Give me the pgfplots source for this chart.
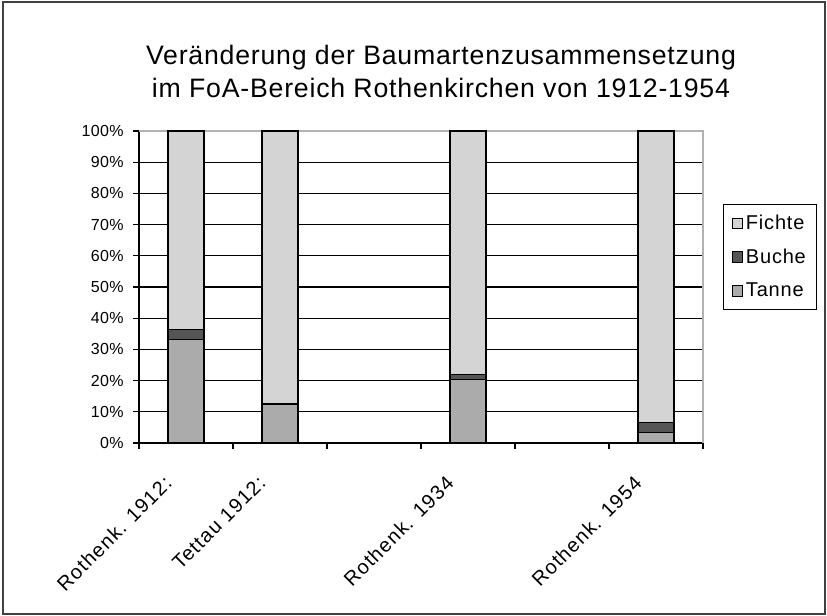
\documentclass[border=0pt]{standalone}
\usepackage{fontspec}
\setmainfont{Liberation Sans}
\newfontfamily\lsfont[LetterSpace=6]{Liberation Sans}
\newfontfamily\lgfont[LetterSpace=4]{Liberation Sans}
\newfontfamily\ytfont[LetterSpace=2]{Liberation Sans}
\newfontfamily\ttlfont[LetterSpace=3]{Liberation Sans}
\usepackage{pgfplots}
\pgfplotsset{compat=1.18}
\definecolor{fichte}{HTML}{D4D4D4}
\definecolor{buche}{HTML}{555555}
\definecolor{tanne}{HTML}{ABABAB}
\begin{document}
\begin{tikzpicture}
\fill[white] (0,0) rectangle (620.25pt,462pt);
\draw[line width=1.5pt, color=black!75] (2.25pt,1.5pt) rectangle (618.75pt,460.5pt);
\node[align=center, font=\ttlfont\fontsize{20}{25}\selectfont] at (330.75pt,408.5pt) {Veränderung der Baumartenzusammensetzung\\im FoA-Bereich Rothenkirchen von 1912-1954};
\begin{axis}[
 at={(104.25pt,129.75pt)}, anchor=south west,
 scale only axis, width=423pt, height=234pt,
 ybar stacked, bar width=27pt,
 xmin=-0.5, xmax=5.5, ymin=0, ymax=100,
 xtick={-0.5,0.5,1.5,2.5,3.5,4.5,5.5},
 x tick label as interval,
 xticklabels={Rothenk. 1912:,Tettau 1912:,,Rothenk. 1934,,Rothenk. 1954},
 x tick label style={yshift=-20.5pt, xshift=-11pt, rotate=45, anchor=east, font=\lsfont\fontsize{15}{17}\selectfont},
 ytick={0,10,20,30,40,50,60,70,80,90,100},
 yticklabels={0\%,10\%,20\%,30\%,40\%,50\%,60\%,70\%,80\%,90\%,100\%},
 y tick label style={xshift=-3.5pt, font=\ytfont\fontsize{12}{14}\selectfont},
 ymajorgrids, grid style={black, line width=0.8pt},
 axis x line=bottom, axis y line=left, axis line style={-, black, line width=0.8pt},
 tick align=outside, major tick length=4.5pt, tick style={black, line width=0.8pt},
 every axis plot/.append style={draw=black, line width=0.8pt},
 legend style={at={(1.0355,0.766)}, anchor=north west, draw=black, line width=0.8pt,
   font=\lgfont\fontsize{15}{17}\selectfont, cells={anchor=west}, row sep=9pt, inner ysep=6pt, inner xsep=6pt},
 legend image code/.code={\draw[#1] (0pt,-4pt) rectangle (8pt,4pt);},
 reverse legend,
 clip=false,
]
\addplot[fill=tanne] coordinates {(0,33.1) (1,12.2) (3,20.3) (5,3.5)};
\addplot[fill=buche] coordinates {(0,3.2) (1,0.5) (3,1.7) (5,3.1)};
\addplot[fill=fichte] coordinates {(0,63.7) (1,87.3) (3,78.0) (5,93.4)};
\legend{Tanne,Buche,Fichte}
\draw[gray!60, line width=0.8pt] (rel axis cs:0,1) -- (rel axis cs:1,1) -- (rel axis cs:1,0);
\end{axis}
\end{tikzpicture}
\end{document}
